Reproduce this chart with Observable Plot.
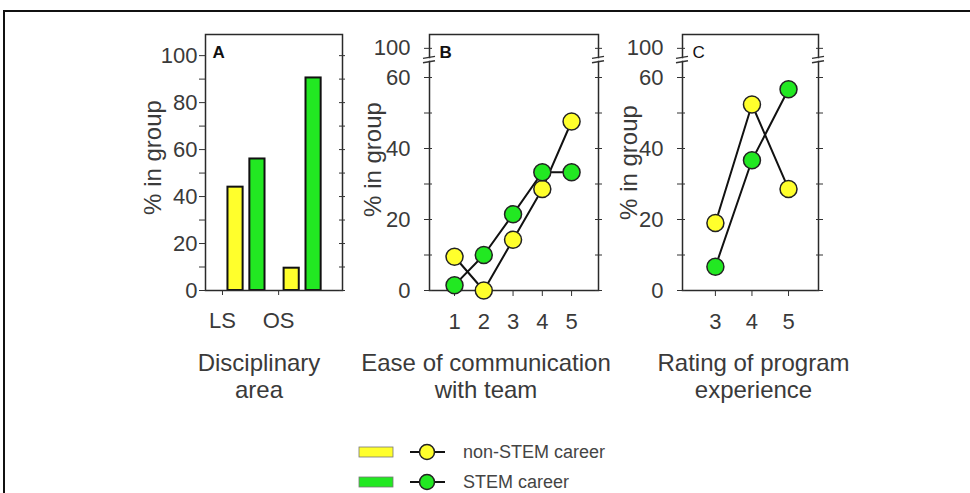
<!DOCTYPE html>
<html><head><meta charset="utf-8">
<script src="https://cdn.jsdelivr.net/npm/d3@7"></script>
<script src="https://cdn.jsdelivr.net/npm/@observablehq/plot@0.6"></script>
<style>
body{margin:0;background:#fff;}
#wrap{position:relative;width:970px;height:493px;overflow:hidden;background:#fff;font-family:"Liberation Sans",Arial,Helvetica,sans-serif;}
#border{position:absolute;left:3px;top:10px;width:1000px;height:520px;border-top:2px solid #111;border-left:2px solid #111;}
</style></head><body>
<div id="wrap"><div id="border"></div></div>
<script>
// ---------------- data ----------------
const seriesNames = ["non-STEM career", "STEM career"];
const seriesColors = ["#ffff2c", "#22e822"];

const areaCategories = ["LS", "OS"];
const areaNonStem = [44, 9.5];
const areaStem = [56, 90.5];

const easeLevels = [1, 2, 3, 4, 5];
const easeNonStem = [9.5, 0, 14.3, 28.6, 47.6];
const easeStem = [1.5, 10, 21.5, 33.3, 33.3];

const ratingLevels = [3, 4, 5];
const ratingNonStem = [19, 52.4, 28.6];
const ratingStem = [6.7, 36.7, 56.7];

const yTicksA = [0, 20, 40, 60, 80, 100];
const yMinorA = [10, 30, 50, 70, 90];
const yTicksBroken = [0, 20, 40, 60, 100];
const yMinorBroken = [10, 30, 50];

const titleA = "Disciplinary\narea";
const titleB = "Ease of communication\nwith team";
const titleC = "Rating of program\nexperience";
const yTitle = "% in group";

// ---------------- helpers ----------------
const FONT = "'Liberation Sans', Arial, Helvetica, sans-serif";
const wrap = document.getElementById("wrap");
const baseStyle = {fontFamily: FONT, fontSize: "22px", color: "#3a3a3a", background: "transparent", overflow: "visible"};
const color = {domain: seriesNames, range: seriesColors};

function place(node, left) {
  node.style.position = "absolute";
  node.style.left = left + "px";
  node.style.top = "0px";
  wrap.appendChild(node);
}

function breakMarks(lo, hi) {
  return (...args) => {
    const scales = args.find(a => a && typeof a.y === "function");
    const dims = args.find(a => a && a.marginLeft !== undefined && a.width !== undefined);
    const g = d3.create("svg:g");
    const yLo = scales.y(lo), yHi = scales.y(hi);
    for (const x of [dims.marginLeft, dims.width - dims.marginRight]) {
      g.append("rect").attr("x", x - 6).attr("y", yHi + 1).attr("width", 12).attr("height", yLo - yHi - 2).attr("fill", "#fff");
      for (const y of [yLo, yHi]) {
        g.append("line").attr("x1", x - 6).attr("x2", x + 6).attr("y1", y + 1).attr("y2", y - 1)
          .attr("stroke", "#333").attr("stroke-width", 1.4);
      }
    }
    return g.node();
  };
}

function rowsOf(levels, a, b) {
  return [
    ...levels.map((l, i) => ({level: l, value: a[i], series: seriesNames[0]})),
    ...levels.map((l, i) => ({level: l, value: b[i], series: seriesNames[1]}))
  ];
}

// ---------------- panel A ----------------
const barRows = areaCategories.flatMap((c, i) => [
  {cat: c, pos: i + 1, k: 0, series: seriesNames[0], value: areaNonStem[i]},
  {cat: c, pos: i + 1, k: 1, series: seriesNames[1], value: areaStem[i]}
]);
const BAR_OFF = 0.195, BAR_HW = 0.135;

const plotA = Plot.plot({
  width: 262, height: 420, marginLeft: 105, marginRight: 20, marginTop: 34, marginBottom: 130,
  style: baseStyle,
  x: {domain: [0.27, 2.71]},
  y: {domain: [0, 109]},
  color,
  marks: [
    Plot.rectY(barRows, {
      x1: d => d.pos + (d.k ? BAR_OFF : -BAR_OFF) - BAR_HW,
      x2: d => d.pos + (d.k ? BAR_OFF : -BAR_OFF) + BAR_HW,
      y1: 0, y2: "value", fill: "series", stroke: "#111", strokeWidth: 2
    }),
    Plot.frame({stroke: "#2a2a2a", strokeWidth: 1.5}),
    Plot.axisY({anchor: "left", ticks: yTicksA, tickSize: 7, dx: 1, tickPadding: 2, label: null, stroke: "#333"}),
    Plot.axisY({anchor: "left", ticks: yMinorA, tickSize: 7, dx: 1, tickFormat: () => "", label: null, stroke: "#333"}),
    Plot.axisY({anchor: "right", ticks: [...yTicksA, ...yMinorA], tickSize: 6, dx: -4, tickFormat: () => "", label: null, stroke: "#333"}),
    Plot.axisX({anchor: "bottom", ticks: [1, 2], tickFormat: d => areaCategories[d - 1], tickSize: 5, tickPadding: 17, dx: -24, label: null, stroke: "#333"}),
    Plot.text(["A"], {frameAnchor: "top-left", dx: 7, dy: 11, fontWeight: "bold", fontSize: 17, fill: "#111"}),
    Plot.text([yTitle], {frameAnchor: "left", textAnchor: "middle", rotate: -90, dx: -52, dy: -5, fontSize: 24}),
    Plot.text([titleA], {frameAnchor: "bottom", lineAnchor: "top", dy: 62, dx: -15, fontSize: 24, lineHeight: 1.1})
  ]
});
place(plotA, 100);

// ---------------- panels B & C ----------------
function linePanel({rows, levels, xDomain, left, width, marginLeft, letter, title, titleDx, labelDx, labelDy, tickDx, tickPadding, rightDx, letterBold}) {
  const p = Plot.plot({
    width, height: 420, marginLeft, marginRight: width - marginLeft - (xDomain.frameW), marginTop: 34, marginBottom: 130,
    style: baseStyle,
    x: {domain: xDomain.d},
    y: {type: "linear", domain: [0, 60, 119], range: [290, 77, 34]},
    color,
    marks: [
      Plot.frame({stroke: "#2a2a2a", strokeWidth: 1.5}),
      Plot.axisY({anchor: "left", ticks: yTicksBroken, tickSize: 8, dx: tickDx, tickPadding, tickFormat: d => String(d), label: null, stroke: "#333"}),
      Plot.axisY({anchor: "left", ticks: yMinorBroken, tickSize: 8, dx: tickDx, tickFormat: () => "", label: null, stroke: "#333"}),
      Plot.axisY({anchor: "right", ticks: [...yTicksBroken, ...yMinorBroken], tickSize: 7, dx: rightDx, tickFormat: () => "", label: null, stroke: "#333"}),
      breakMarks(81, 87),
      Plot.axisX({anchor: "bottom", ticks: levels, tickFormat: d => String(d), tickSize: 6, tickPadding: 17, label: null, stroke: "#333"}),
      Plot.line(rows, {x: "level", y: "value", z: "series", stroke: "#111", strokeWidth: 2}),
      Plot.dot(rows, {x: "level", y: "value", fill: "series", r: 8.5, stroke: "#222", strokeWidth: 1.5}),
      Plot.text([letter], {frameAnchor: "top-left", dx: 10, dy: 11, fontWeight: letterBold ? "bold" : "normal", fontSize: 17, fill: "#111"}),
      Plot.text([yTitle], {frameAnchor: "left", textAnchor: "middle", rotate: -90, dx: labelDx, dy: labelDy, fontSize: 24}),
      Plot.text([title], {frameAnchor: "bottom", lineAnchor: "top", dy: 62, dx: titleDx, fontSize: 24, lineHeight: 1.1})
    ]
  });
  place(p, left);
}

linePanel({
  rows: rowsOf(easeLevels, easeNonStem, easeStem), levels: easeLevels,
  xDomain: {d: [0.145, 5.92], frameW: 598 - 429},
  left: 330, width: 290, marginLeft: 99, letter: "B", title: titleB, letterBold: true,
  titleDx: -28, labelDx: -56, labelDy: -3, tickDx: 3, tickPadding: 14, rightDx: -4
});

linePanel({
  rows: rowsOf(ratingLevels, ratingNonStem, ratingStem), levels: ratingLevels,
  xDomain: {d: [2.1, 5.82], frameW: 818 - 682},
  left: 580, width: 270, marginLeft: 102, letter: "C", title: titleC, letterBold: false,
  titleDx: 3, labelDx: -53, labelDy: 0, tickDx: 3, tickPadding: 14, rightDx: -3
});

// ---------------- legend ----------------
const leg = d3.create("svg").attr("width", 300).attr("height", 60)
  .style("position", "absolute").style("left", "350px").style("top", "436px").style("overflow", "visible");
seriesNames.forEach((name, i) => {
  const cy = 16 + i * 30;
  const g = leg.append("g");
  g.append("rect").attr("x", 9).attr("y", cy - 5).attr("width", 34).attr("height", 10)
    .attr("fill", seriesColors[i]).attr("stroke", "#777").attr("stroke-width", 0.8);
  g.append("line").attr("x1", 60).attr("x2", 95).attr("y1", cy).attr("y2", cy).attr("stroke", "#111").attr("stroke-width", 2);
  g.append("circle").attr("cx", 77).attr("cy", cy).attr("r", 7.5).attr("fill", seriesColors[i]).attr("stroke", "#222").attr("stroke-width", 1.5);
  g.append("text").attr("x", 113).attr("y", cy).attr("dy", "0.35em").attr("font-size", 18)
    .attr("font-family", FONT).attr("fill", "#444").text(name);
});
wrap.appendChild(leg.node());
</script>
</body></html>
